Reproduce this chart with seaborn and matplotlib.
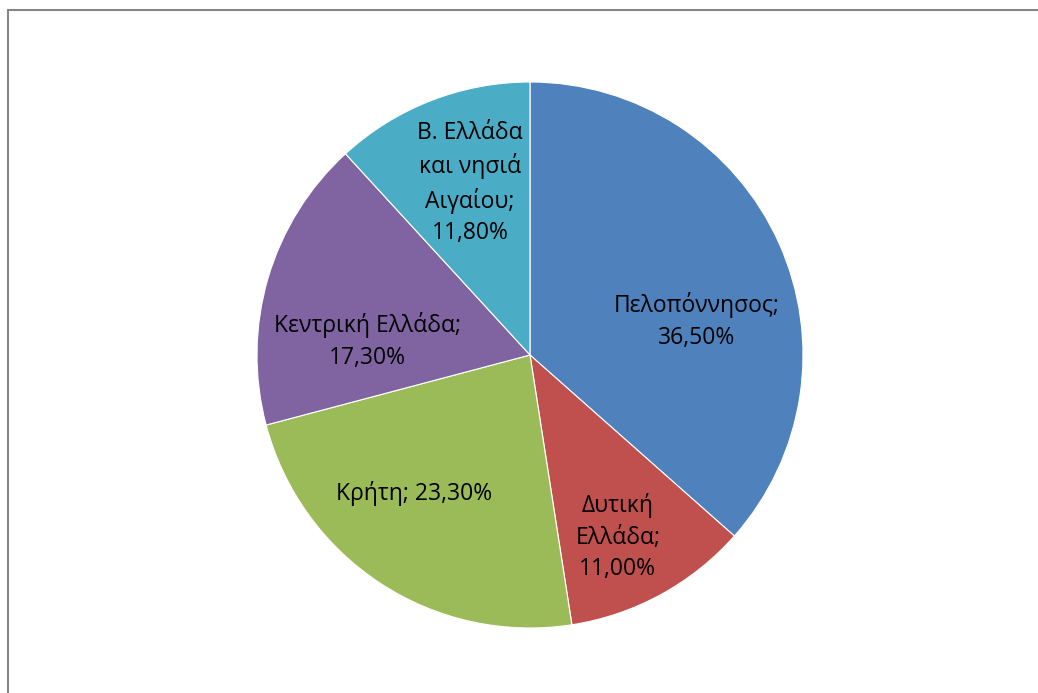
import matplotlib
matplotlib.use("Agg")
import matplotlib.pyplot as plt
import seaborn as sns
from matplotlib.lines import Line2D

# ---- data ----
categories = ["Πελοπόννησος", "Δυτική Ελλάδα", "Κρήτη", "Κεντρική Ελλάδα",
              "Β. Ελλάδα και νησιά Αιγαίου"]
shares = [36.5, 11.0, 23.3, 17.3, 11.8]

# ---- layout / style ----
colors = ["#4F81BD", "#C0504D", "#9BBB59", "#8064A2", "#4BACC6"]
label_templates = ["Πελοπόννησος;\n{v}", "Δυτική\nΕλλάδα;\n{v}", "Κρήτη; {v}",
                   "Κεντρική Ελλάδα;\n{v}", "Β. Ελλάδα\nκαι νησιά\nΑιγαίου;\n{v}"]
label_pos = [(0.610, 0.125), (0.322, -0.668), (-0.425, -0.509),
             (-0.597, 0.051), (-0.220, 0.630)]

sns.set_theme(style="white")
plt.rcParams["font.family"] = ["Open Sans", "DejaVu Sans"]

fig = plt.figure(figsize=(10.38, 6.93), dpi=100)
W, H = 1038, 693
cx, cy, r = 530, 355, 273
ax = fig.add_axes([(cx - r) / W, (H - cy - r) / H, 2 * r / W, 2 * r / H])

palette = sns.color_palette(colors)
ax.pie(shares, colors=palette, startangle=90, counterclock=False,
       wedgeprops=dict(edgecolor="white", linewidth=0.8))
ax.set_xlim(-1, 1)
ax.set_ylim(-1, 1)
ax.set_aspect("equal")
ax.axis("off")

for tmpl, v, (x, y) in zip(label_templates, shares, label_pos):
    txt = tmpl.format(v=f"{v:.2f}".replace(".", ",") + "%")
    ax.text(x, y, txt, ha="center", va="center", fontsize=16.5,
            color="black", linespacing=1.42)

# chart frame (partially visible)
fig.add_artist(Line2D([7.5 / W, 7.5 / W], [0, 1 - 10 / H], color="#868686",
                      linewidth=1.5, transform=fig.transFigure))
fig.add_artist(Line2D([7.5 / W, 1], [1 - 10 / H, 1 - 10 / H], color="#868686",
                      linewidth=1.5, transform=fig.transFigure))

fig.savefig("out.png", dpi=100, facecolor="white")
